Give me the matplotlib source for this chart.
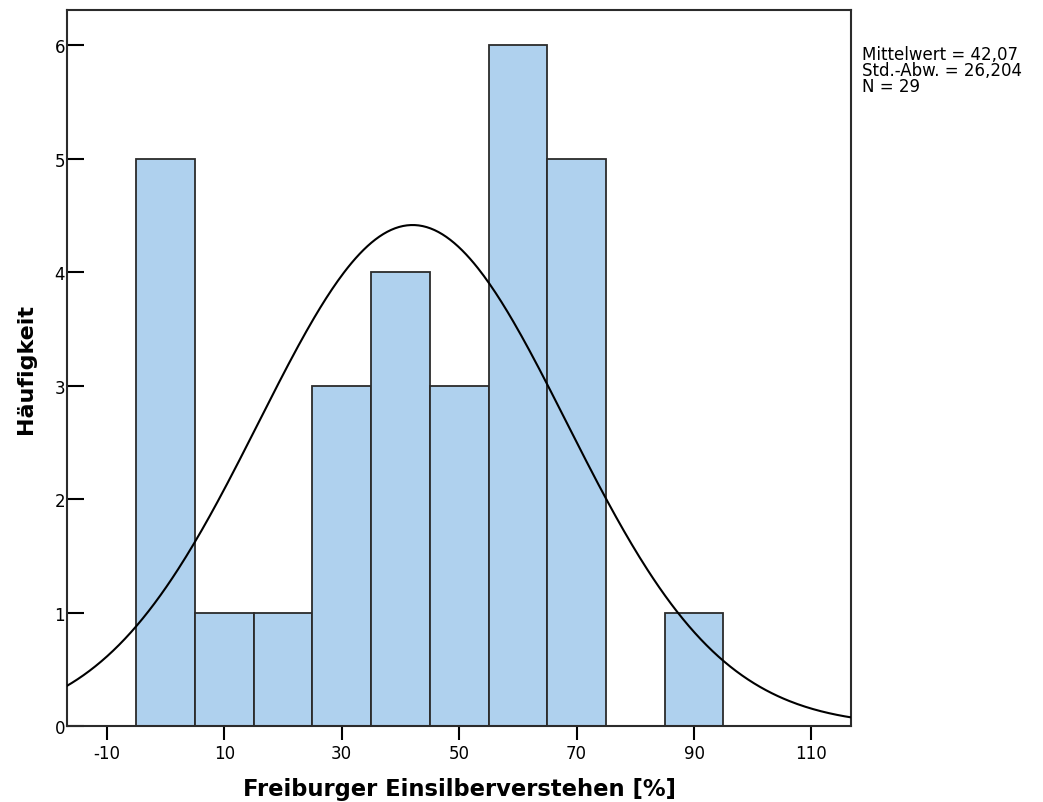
import numpy as np
import matplotlib.pyplot as plt

plt.rcParams['font.family'] = ['DejaVu Sans']
plt.rcParams['axes.unicode_minus'] = False

# histogram bins (centres, width 10) and counts
bin_centers = [0, 10, 20, 30, 40, 50, 60, 70, 80, 90]
counts = [5, 1, 1, 3, 4, 3, 6, 5, 0, 1]
bin_width = 10

mean = 42.07
std = 26.204
n = 29

xticks = [-10, 10, 30, 50, 70, 90, 110]
yticks = [0, 1, 2, 3, 4, 5, 6]

fig = plt.figure(figsize=(10.43, 8.03), dpi=100)
ax = fig.add_axes([0.0642, 0.0946, 0.7521, 0.8917])

ax.bar(bin_centers, counts, width=bin_width, color='#AFD1EE',
       edgecolor='#2b2b2b', linewidth=1.3, zorder=2)

# normal curve scaled to the histogram
xs = np.linspace(-17, 117, 400)
ys = n * bin_width / (std * np.sqrt(2 * np.pi)) * np.exp(-0.5 * ((xs - mean) / std) ** 2)
ax.plot(xs, ys, color='black', linewidth=1.5, zorder=3)

ax.set_xlim(-16.8, 116.8)
ax.set_ylim(0, 6.31)
ax.set_xticks(xticks)
ax.set_yticks(yticks)
ax.tick_params(axis='y', direction='in', length=12, width=1.5, labelsize=12, pad=1.5)
ax.tick_params(axis='x', direction='out', length=10, width=1.5, labelsize=12, pad=3)
for s in ax.spines.values():
    s.set_linewidth(1.5)
    s.set_color('#2b2b2b')

ax.set_xlabel('Freiburger Einsilberverstehen [%]', fontsize=16.3, fontweight='bold', labelpad=11)
ax.set_ylabel('Häufigkeit', fontsize=16, fontweight='bold', labelpad=13)

fig.text(0.826, 0.943, 'Mittelwert = 42,07\nStd.-Abw. = 26,204\nN = 29',
         fontsize=12, va='top', ha='left', linespacing=0.88)

fig.savefig('out.png', dpi=100)
